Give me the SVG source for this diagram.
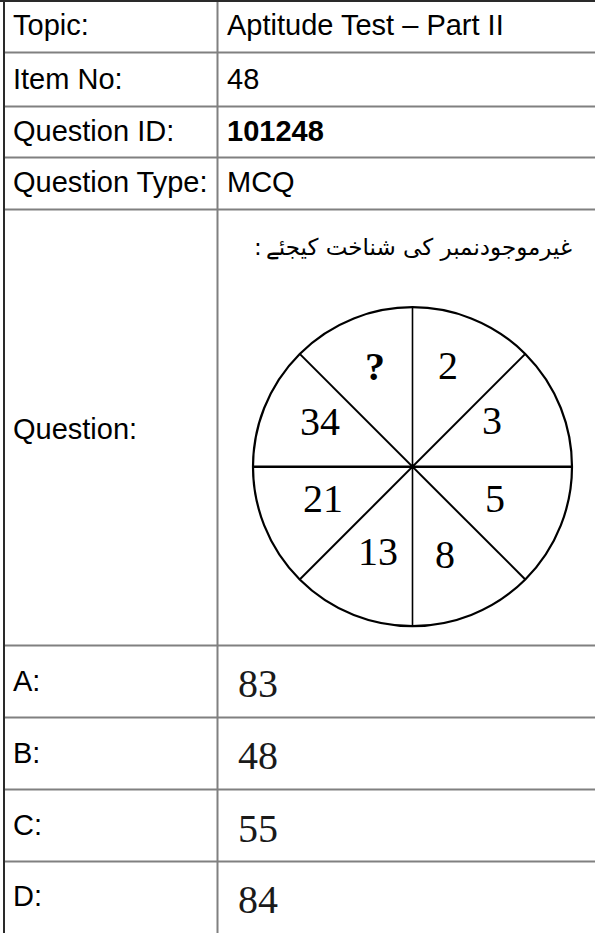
<svg xmlns="http://www.w3.org/2000/svg" width="595" height="933" viewBox="0 0 595 933">
<style>
.lbl{font-family:"Liberation Sans",Arial,sans-serif;font-size:29px;fill:#000}
.b{font-weight:bold}
.grid{stroke:#808080;stroke-width:2;fill:none}
.num{font-family:"Liberation Serif","Times New Roman",serif;font-size:40px;fill:#000;text-anchor:middle}
.opt{font-family:"Liberation Serif","Times New Roman",serif;font-size:40px;fill:#1a1a1a}
.ur{font-family:"DejaVu Sans",sans-serif;font-size:23px;fill:#000}
.ink{stroke:#000;fill:none}
</style>
<rect width="595" height="933" fill="#fff"/>
<g id="table">
<line class="grid" x1="4" y1="52.5" x2="595" y2="52.5"/>
<line class="grid" x1="4" y1="106.5" x2="595" y2="106.5"/>
<line class="grid" x1="4" y1="157.5" x2="595" y2="157.5"/>
<line class="grid" x1="4" y1="209.5" x2="595" y2="209.5"/>
<line class="grid" x1="4" y1="645.5" x2="595" y2="645.5"/>
<line class="grid" x1="4" y1="717.5" x2="595" y2="717.5"/>
<line class="grid" x1="4" y1="789.5" x2="595" y2="789.5"/>
<line class="grid" x1="4" y1="861.5" x2="595" y2="861.5"/>
<line class="grid" x1="217.5" y1="1" x2="217.5" y2="933"/>
<line x1="0" y1="1" x2="595" y2="1" stroke="#2a2a2a" stroke-width="2"/>
<line x1="4" y1="0" x2="4" y2="933" stroke="#2a2a2a" stroke-width="2"/>
</g>
<g id="row-topic">
<text class="lbl" x="13" y="35">Topic:</text>
<text class="lbl" x="227" y="35">Aptitude Test – Part II</text>
</g>
<g id="row-item">
<text class="lbl" x="13" y="89">Item No:</text>
<text class="lbl" x="227" y="89">48</text>
</g>
<g id="row-qid">
<text class="lbl" x="13" y="141">Question ID:</text>
<text class="lbl b" x="227" y="141">101248</text>
</g>
<g id="row-qtype">
<text class="lbl" x="13" y="192">Question Type:</text>
<text class="lbl" x="227" y="192">MCQ</text>
</g>
<g id="row-question">
<text class="lbl" x="13" y="439">Question:</text>
<text class="ur" x="572" y="255" text-anchor="end">غیرموجودنمبر کی شناخت کیجئے</text>
<text class="ur" x="254" y="255">:</text>
</g>
<g id="wheel">
<circle class="ink" cx="412.5" cy="466.7" r="159.5" stroke-width="2.2"/>
<line class="ink" x1="412.5" y1="307" x2="412.5" y2="626.5" stroke-width="1.6"/>
<line class="ink" x1="253" y1="466.7" x2="572" y2="466.7" stroke-width="2.6"/>
<line class="ink" x1="299.7" y1="353.9" x2="525.3" y2="579.5" stroke-width="2"/>
<line class="ink" x1="525.3" y1="353.9" x2="299.7" y2="579.5" stroke-width="2"/>
<circle cx="412.5" cy="466.7" r="2.5" fill="#000"/>
<text class="num" x="375" y="380" font-weight="bold">?</text>
<text class="num" x="448" y="379">2</text>
<text class="num" x="492" y="434">3</text>
<text class="num" x="320" y="435">34</text>
<text class="num" x="323" y="512">21</text>
<text class="num" x="495" y="512">5</text>
<text class="num" x="378" y="565">13</text>
<text class="num" x="445" y="568">8</text>
</g>
<g id="opt-a">
<text class="lbl" x="13" y="691">A:</text>
<text class="opt" x="238" y="697">83</text>
</g>
<g id="opt-b">
<text class="lbl" x="13" y="763">B:</text>
<text class="opt" x="238" y="769">48</text>
</g>
<g id="opt-c">
<text class="lbl" x="13" y="835">C:</text>
<text class="opt" x="238" y="842">55</text>
</g>
<g id="opt-d">
<text class="lbl" x="13" y="906">D:</text>
<text class="opt" x="238" y="913">84</text>
</g>
</svg>
